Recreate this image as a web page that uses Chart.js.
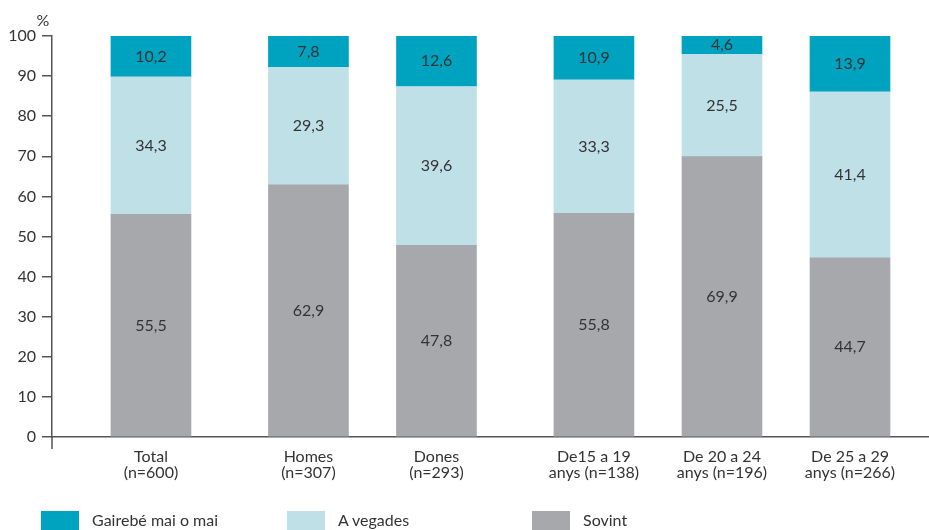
<!DOCTYPE html>
<html>
<head>
<meta charset="utf-8">
<script src="https://cdn.jsdelivr.net/npm/chart.js@4/dist/chart.umd.min.js"></script>
<style>
  html, body { margin: 0; padding: 0; background: #fff; }
  #wrap { position: relative; width: 929px; height: 530px; overflow: hidden; font-family: Lato, sans-serif; }
  #chart { position: absolute; left: 0; top: 0; }
  .leg-box { position: absolute; top: 511px; width: 38px; height: 20px; }
  .leg-text { position: absolute; top: 510px; font-size: 16px; color: #333; line-height: 20px; }
</style>
</head>
<body>
<div id="wrap">
  <canvas id="chart" width="929" height="530"></canvas>
  <div class="leg-box" style="left:41px;background:#00a3bf"></div>
  <div class="leg-text" style="left:92px">Gairebé mai o mai</div>
  <div class="leg-box" style="left:287px;background:#c0e0e8"></div>
  <div class="leg-text" style="left:338px">A vegades</div>
  <div class="leg-box" style="left:532px;background:#a7a8ac"></div>
  <div class="leg-text" style="left:583px">Sovint</div>
</div>
<script>
// categories and their group (Total / sex / age)
const categories = [
    ['Total', '(n=600)'],
    ['Homes', '(n=307)'],
    ['Dones', '(n=293)'],
    ['De15 a 19', 'anys (n=138)'],
    ['De 20 a 24', 'anys (n=196)'],
    ['De 25 a 29', 'anys (n=266)']
];
const groups = [0, 1, 1, 2, 2, 2];

// series values (%)
const sovint = [55.5, 62.9, 47.8, 55.8, 69.9, 44.7];
const aVegades = [34.3, 29.3, 39.6, 33.3, 25.5, 41.4];
const gairebeMai = [10.2, 7.8, 12.6, 10.9, 4.6, 13.9];

const yTicks = [0, 10, 20, 30, 40, 50, 60, 70, 80, 90, 100];

const groupGap = 0.23;
const xPos = categories.map((c, i) => i + groups[i] * groupGap);
const toPoints = arr => arr.map((v, i) => ({ x: xPos[i], y: v }));

const axisColor = '#555';
const textColor = '#333';

// value labels in the middle of each segment
const valueLabels = {
    id: 'valueLabels',
    afterDatasetsDraw(chart) {
        const ctx = chart.ctx;
        ctx.save();
        ctx.font = '16px Lato, sans-serif';
        ctx.fillStyle = textColor;
        ctx.textAlign = 'center';
        ctx.textBaseline = 'middle';
        chart.data.datasets.forEach((ds, di) => {
            chart.getDatasetMeta(di).data.forEach((bar, i) => {
                const v = ds.data[i].y;
                ctx.fillText(v.toFixed(1).replace('.', ','), bar.x, (bar.y + bar.base) / 2);
            });
        });
        ctx.restore();
    }
};

// "%" unit and the small axis overhang
const axisExtras = {
    id: 'axisExtras',
    afterDraw(chart) {
        const ctx = chart.ctx;
        const a = chart.chartArea;
        ctx.save();
        ctx.strokeStyle = axisColor;
        ctx.lineWidth = 1.5;
        ctx.beginPath();
        ctx.moveTo(a.left, a.bottom);
        ctx.lineTo(a.left, a.bottom + 12);
        ctx.stroke();
        ctx.font = '16px Lato, sans-serif';
        ctx.fillStyle = textColor;
        ctx.textAlign = 'center';
        ctx.textBaseline = 'middle';
        ctx.fillText('%', 43, 21);
        ctx.restore();
    }
};

new Chart(document.getElementById('chart'), {
    type: 'bar',
    data: {
        datasets: [
            { label: 'Sovint', data: toPoints(sovint), backgroundColor: '#a7a8ac' },
            { label: 'A vegades', data: toPoints(aVegades), backgroundColor: '#c0e0e8' },
            { label: 'Gairebé mai o mai', data: toPoints(gairebeMai), backgroundColor: '#00a3bf' }
        ]
    },
    options: {
        responsive: false,
        animation: false,
        barThickness: 80,
        layout: { padding: { top: 36, bottom: 41, left: 0, right: 0 } },
        plugins: {
            legend: { display: false },
            tooltip: { enabled: false }
        },
        scales: {
            x: {
                type: 'linear',
                stacked: true,
                offset: false,
                min: xPos[0] - 0.773,
                max: xPos[xPos.length - 1] + 0.617,
                afterBuildTicks: scale => { scale.ticks = xPos.map(v => ({ value: v })); },
                afterFit: scale => { scale.height = 52; },
                grid: { display: false, drawTicks: false },
                border: { display: true, color: axisColor, width: 1.5 },
                ticks: {
                    autoSkip: false,
                    maxRotation: 0,
                    padding: 12,
                    color: textColor,
                    font: { family: 'Lato', size: 16, lineHeight: 0.98 },
                    callback: (v, i) => categories[i]
                }
            },
            y: {
                stacked: true,
                min: 0,
                max: 100,
                afterBuildTicks: scale => { scale.ticks = yTicks.map(v => ({ value: v })); },
                afterFit: scale => { scale.width = 52; },
                grid: { drawOnChartArea: false, drawTicks: true, tickLength: 10, color: axisColor, lineWidth: 1.5 },
                border: { display: true, color: axisColor, width: 1.5 },
                ticks: {
                    padding: 6,
                    color: textColor,
                    font: { family: 'Lato', size: 16 }
                }
            }
        }
    },
    plugins: [valueLabels, axisExtras]
});
</script>
</body>
</html>
